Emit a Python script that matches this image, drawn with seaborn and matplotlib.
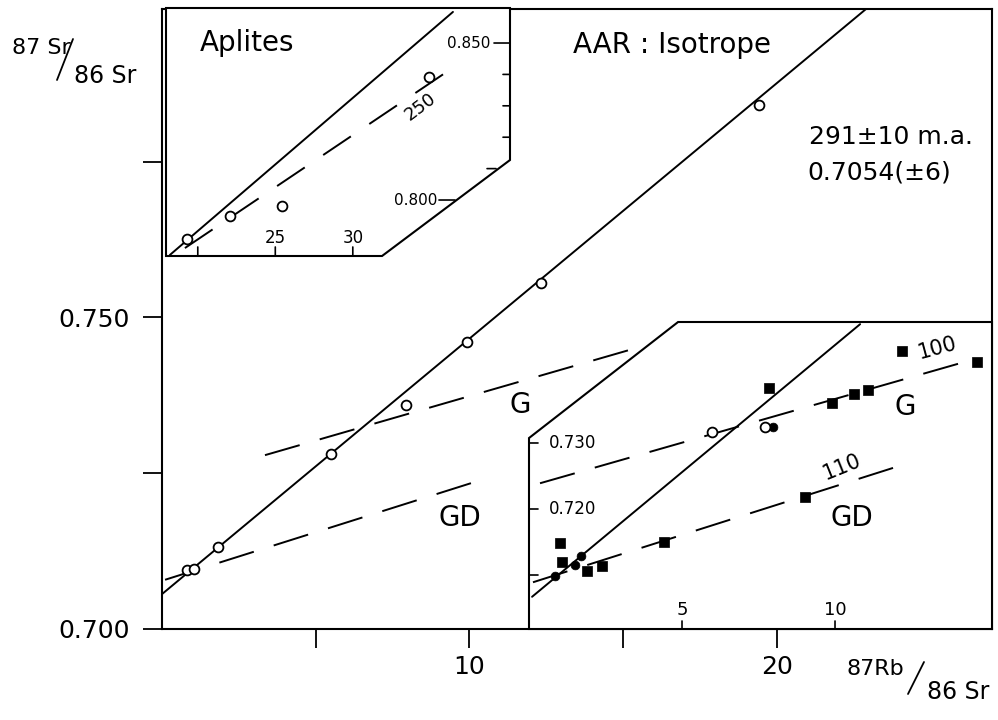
import matplotlib
matplotlib.use("Agg")
import matplotlib.pyplot as plt
import seaborn as sns
from matplotlib.patches import Polygon
from matplotlib.lines import Line2D

sns.set_style("ticks")
plt.rcParams['font.family'] = ['DejaVu Sans']
plt.rcParams['lines.scale_dashes'] = False
for key in ["text.color", "axes.labelcolor", "xtick.color", "ytick.color"]:
    plt.rcParams[key] = "black"

# ---- main diagram (whole rock) ----
main_open_x = [0.80, 1.05, 1.82, 5.50, 7.94, 9.92, 12.33, 19.42]
main_open_y = [0.7094, 0.7097, 0.7132, 0.7281, 0.7360, 0.7461, 0.7555, 0.7841]
iso_x = [0.0, 23.0]
iso_y = [0.7056, 0.7999]
g_x = [3.35, 15.22]
g_y = [0.7279, 0.7448]
gd_x = [0.10, 10.05]
gd_y = [0.7079, 0.7234]
main_xticks = [5, 10, 15, 20]
main_xlabels = ["", "10", "", "20"]
main_yticks = [0.700, 0.725, 0.750, 0.775]
main_ylabels = ["0.700", "", "0.750", ""]

# ---- Aplites inset ----
apl_x = [19.30, 22.08, 25.43, 34.92]
apl_y = [0.7876, 0.7949, 0.7981, 0.8392]
apl_iso_x = [18.2, 36.46]
apl_iso_y = [0.7825, 0.8599]
apl_250_x = [19.17, 36.72]
apl_250_y = [0.7847, 0.8430]
apl_xticks = [20, 25, 30]
apl_xlabels = ["", "25", "30"]
apl_yticks = [0.810, 0.820, 0.830, 0.840, 0.850]

# ---- minerals inset (lower right) ----
sq_x = [1.01, 1.08, 1.90, 2.39, 4.41, 7.84, 9.02, 9.90, 10.62, 11.08, 12.19, 14.64]
sq_y = [0.7149, 0.7120, 0.7106, 0.7114, 0.7150, 0.7383, 0.7218, 0.7361, 0.7374, 0.7380, 0.7439, 0.7423]
dot_x = [0.85, 1.50, 1.70, 7.97]
dot_y = [0.7099, 0.7115, 0.7129, 0.7324]
ins_open_x = [5.98, 7.71]
ins_open_y = [0.7317, 0.7324]
ins_iso_x = [0.10, 10.82]
ins_iso_y = [0.7067, 0.7480]
ins_g_x = [0.36, 14.25]
ins_g_y = [0.7239, 0.7423]
ins_gd_x = [0.13, 12.22]
ins_gd_y = [0.7089, 0.7267]
ins_xticks = [5, 10]
ins_yticks = [0.710, 0.720, 0.730]
ins_ylabels = ["", "0.720", "0.730"]

W, H = 998, 720
fig = plt.figure(figsize=(W / 100, H / 100), dpi=100)


def box(l, t, r, b):
    return [l / W, 1 - b / H, (r - l) / W, (b - t) / H]


def tick(ax, x, y, dx, dy):
    ax.annotate("", xy=(x, y), xytext=(dx, dy), textcoords="offset pixels",
                arrowprops=dict(arrowstyle="-", lw=1.2, color="k", shrinkA=0, shrinkB=0))


def label(ax, s, x, y, dx, dy, **kw):
    ax.annotate(s, xy=(x, y), xytext=(dx, dy), textcoords="offset pixels", **kw)


def slash(x0, y0, x1, y1):
    fig.add_artist(Line2D([x0 / W, x1 / W], [1 - y0 / H, 1 - y1 / H],
                          transform=fig.transFigure, color="k", lw=1.3))


dash = (0, (26, 15))

# main axes
ax = fig.add_axes(box(162, 9, 992, 629))
sns.lineplot(x=iso_x, y=iso_y, ax=ax, color="k", lw=1.4)
sns.lineplot(x=g_x, y=g_y, ax=ax, color="k", lw=1.4, linestyle=dash)
sns.lineplot(x=gd_x, y=gd_y, ax=ax, color="k", lw=1.4, linestyle=dash)
sns.scatterplot(x=main_open_x, y=main_open_y, ax=ax, marker="o", s=50,
                color="white", edgecolor="k", linewidth=1.3, zorder=3)
ax.set_xlim(0, 27.0)
ax.set_ylim(0.700, 0.7995)
ax.set_xticks(main_xticks, main_xlabels)
ax.set_yticks(main_yticks, main_ylabels)
ax.tick_params(axis="both", labelsize=18, length=14, width=1.3, direction="out")
ax.tick_params(axis="x", pad=5)
ax.tick_params(axis="y", pad=9)
for sp in ax.spines.values():
    sp.set_linewidth(1.5)
    sp.set_color("k")
ax.text(11.65, 0.7360, "G", fontsize=20, ha="center", va="center")
ax.text(9.69, 0.7178, "GD", fontsize=20, ha="center", va="center")
ax.text(13.37, 0.7937, "AAR : Isotrope", fontsize=20, ha="left", va="center")
ax.text(21.05, 0.7790, "291±10 m.a.", fontsize=18, ha="left", va="center")
ax.text(21.0, 0.7732, "0.7054(±6)", fontsize=18, ha="left", va="center")

# axis titles
fig.text(12 / W, 1 - 48 / H, "87 Sr", fontsize=16, ha="left", va="center")
slash(57, 80, 73, 39)
fig.text(74 / W, 1 - 76 / H, "86 Sr", fontsize=17, ha="left", va="center")
fig.text(846 / W, 1 - 669 / H, "87Rb", fontsize=16, ha="left", va="center")
slash(908, 694, 924, 662)
fig.text(927 / W, 1 - 692 / H, "86 Sr", fontsize=17, ha="left", va="center")

# Aplites inset
axa = fig.add_axes(box(166, 8, 510, 256))
axa.set_xlim(17.95, 40.14)
axa.set_ylim(0.78217, 0.86115)
axa.set_axis_off()
axa.add_patch(Polygon([(0, 1), (1, 1), (1, 0.387), (0.628, 0), (0, 0)], closed=True,
                      transform=axa.transAxes, facecolor="white", edgecolor="k",
                      lw=1.5, zorder=0, clip_on=False))
sns.lineplot(x=apl_iso_x, y=apl_iso_y, ax=axa, color="k", lw=1.4)
sns.lineplot(x=apl_250_x, y=apl_250_y, ax=axa, color="k", lw=1.4, linestyle=(0, (24, 16)))
sns.scatterplot(x=apl_x, y=apl_y, ax=axa, marker="o", s=50,
                color="white", edgecolor="k", linewidth=1.3, zorder=3)
for yv in apl_yticks:
    if yv == 0.810:
        tick(axa, 39.24, yv, -9, 0)
    elif yv == 0.850:
        tick(axa, 40.14, yv, -16, 0)
    else:
        tick(axa, 40.14, yv, -7, 0)
tick(axa, 36.59, 0.800, -16, 0)
label(axa, "0.850", 40.14, 0.850, -20, 0, fontsize=11, ha="right", va="center")
label(axa, "0.800", 36.59, 0.800, -18, 0, fontsize=11, ha="right", va="center")
for xv, lab in zip(apl_xticks, apl_xlabels):
    tick(axa, xv, 0.78217, 0, 9)
    if lab:
        label(axa, lab, xv, 0.78217, 0, 18, fontsize=12, ha="center", va="center")
axa.text(20.14, 0.8500, "Aplites", fontsize=20, ha="left", va="center")
axa.text(34.33, 0.8296, "250", fontsize=13, ha="center", va="center", rotation=37)

# minerals inset
axb = fig.add_axes(box(529, 322, 992, 629))
axb.set_xlim(0, 15.13)
axb.set_ylim(0.70182, 0.74833)
axb.set_axis_off()
axb.add_patch(Polygon([(0, 0), (0, 0.622), (0.322, 1), (1, 1), (1, 0)], closed=True,
                      transform=axb.transAxes, facecolor="white", edgecolor="k",
                      lw=1.5, zorder=0, clip_on=False))
sns.lineplot(x=ins_iso_x, y=ins_iso_y, ax=axb, color="k", lw=1.4)
sns.lineplot(x=ins_g_x, y=ins_g_y, ax=axb, color="k", lw=1.4, linestyle=dash)
sns.lineplot(x=ins_gd_x, y=ins_gd_y, ax=axb, color="k", lw=1.4, linestyle=dash)
sns.scatterplot(x=sq_x, y=sq_y, ax=axb, marker="s", s=45, color="k",
                edgecolor="k", linewidth=0.5, zorder=3)
sns.scatterplot(x=dot_x, y=dot_y, ax=axb, marker="o", s=40, color="k",
                edgecolor="k", linewidth=0.5, zorder=3)
sns.scatterplot(x=ins_open_x, y=ins_open_y, ax=axb, marker="o", s=50,
                color="white", edgecolor="k", linewidth=1.3, zorder=3)
for yv, lab in zip(ins_yticks, ins_ylabels):
    tick(axb, 0, yv, 9, 0)
    if lab:
        label(axb, lab, 0, yv, 20, 0, fontsize=12, ha="left", va="center")
for xv in ins_xticks:
    tick(axb, xv, 0.70182, 0, 8)
    label(axb, str(xv), xv, 0.70182, 0, 19, fontsize=13, ha="center", va="center")
axb.text(12.29, 0.73545, "G", fontsize=20, ha="center", va="center")
axb.text(10.56, 0.71864, "GD", fontsize=20, ha="center", va="center")
axb.text(13.33, 0.7444, "100", fontsize=15, ha="center", va="center", rotation=15)
axb.text(10.23, 0.7264, "110", fontsize=15, ha="center", va="center", rotation=22)

fig.savefig("out.png", dpi=100, facecolor="white")
